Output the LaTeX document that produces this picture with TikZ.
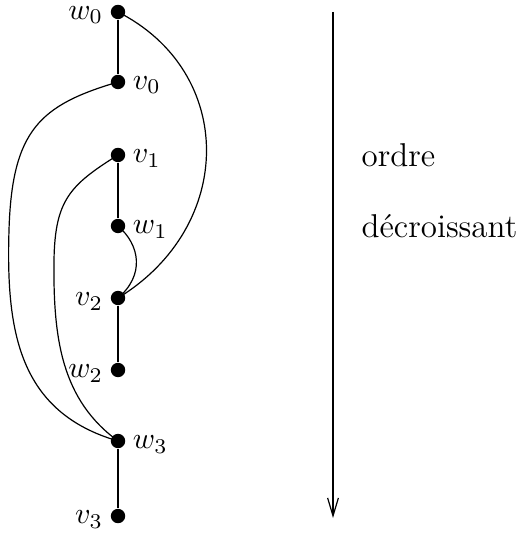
\documentclass[tikz,border=0pt]{standalone}
\usetikzlibrary{arrows.meta}
\begin{document}
\begin{tikzpicture}[x=0.3333pt,y=-0.3333pt,line width=0.4pt,
  label distance=-1.2pt,
  every label/.style={yshift=-1.1pt},
  dot/.style={circle,fill=black,inner sep=0pt,minimum size=4.8pt},
  txt/.style={anchor=west,inner sep=0pt,font=\fontsize{11}{13}\selectfont}]
\useasboundingbox (0,0) rectangle (519,533);
\node[dot,label=left:$w_0$] (w0) at (118,12) {};
\node[dot,label=right:$v_0$] (v0) at (118,82) {};
\node[dot,label=right:$v_1$] (v1) at (118,155) {};
\node[dot,label=right:$w_1$] (w1) at (118,226) {};
\node[dot,label=left:$v_2$] (v2) at (118,298) {};
\node[dot,label=left:$w_2$] (w2) at (118,370) {};
\node[dot,label=right:$w_3$] (w3) at (118,441) {};
\node[dot,label=left:$v_3$] (v3) at (118,516) {};
\draw (w0) -- (v0);
\draw (v1) -- (w1);
\draw (v2) -- (w2);
\draw (w3) -- (v3);
\draw (w0.center) .. controls (236,72) and (236,226) .. (v2.center);
\draw (w1.center) .. controls (140,245) and (145,275) .. (v2.center);
\draw (v0.center) .. controls (40,105) and (12,130) .. (9,230)
      .. controls (6,330) and (18,412) .. (w3.center);
\draw (v1.center) .. controls (70,185) and (55,200) .. (54,260)
      .. controls (53,340) and (62,400) .. (w3.center);
\coordinate (atop) at (333,12);
\coordinate (abot) at (333,518);
\draw[-{Straight Barb[length=6pt,width=3.6pt]}] (atop) -- (abot);
\node[txt] (t1) at (361,155) {ordre};
\node[txt] (t2) at (361,226) {d\'ecroissant};
\end{tikzpicture}
\end{document}
